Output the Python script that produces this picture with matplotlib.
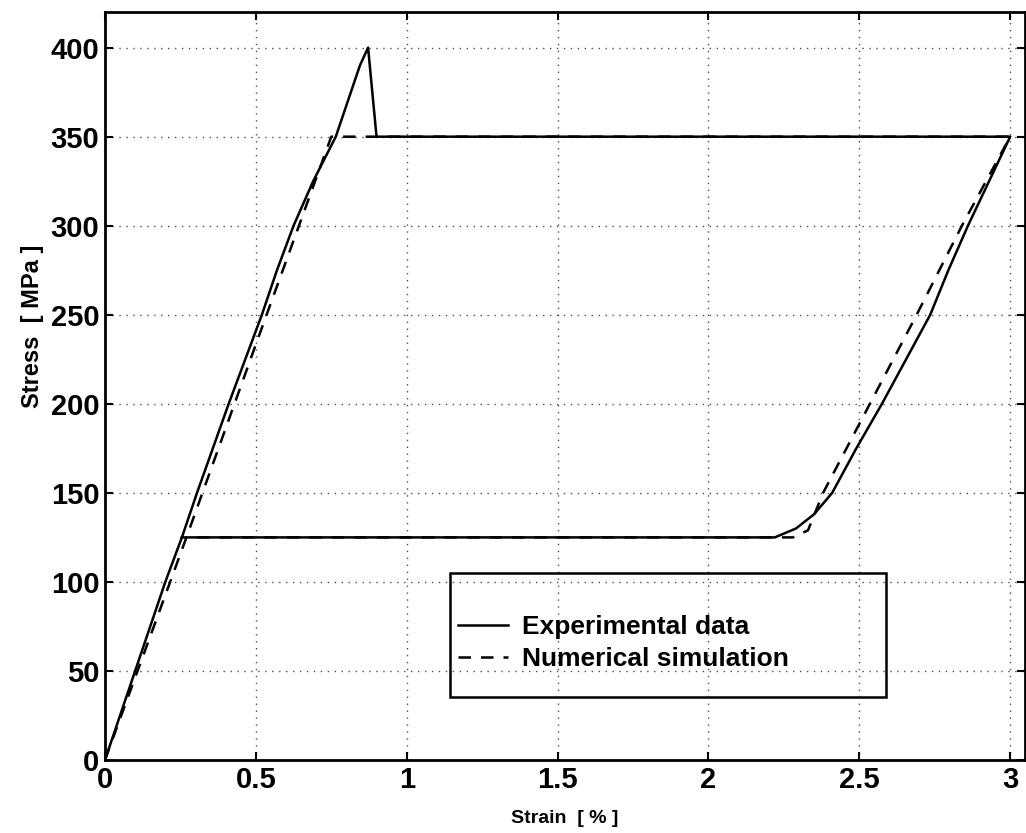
import numpy as np
import matplotlib.pyplot as plt
from matplotlib.patches import Rectangle

plt.rcParams['font.family'] = ['Liberation Sans', 'DejaVu Sans']

# Experimental data (strain %, stress MPa)
exp_strain = [0, 0.10, 0.20, 0.255, 0.305, 0.41, 0.52, 0.57, 0.625, 0.69, 0.765, 0.845, 0.872, 0.90,
              3.0, 2.93, 2.86, 2.795, 2.735, 2.655, 2.575, 2.49, 2.41, 2.35, 2.29, 2.22, 0.255]
exp_stress = [0, 50, 100, 125, 150, 200, 250, 275, 300, 325, 350, 390, 400, 350,
              350, 325, 300, 275, 250, 225, 200, 175, 150, 138, 130, 125, 125]

# Numerical simulation
sim_strain = [0, 0.27, 0.51, 0.75, 0.90, 3.0, 2.84, 2.69, 2.535, 2.38, 2.33, 2.28, 0.27]
sim_stress = [0, 125, 238, 350, 350, 350, 300, 250, 200, 150, 129, 125, 125]

xticks = [0, 0.5, 1, 1.5, 2, 2.5, 3]
yticks = [0, 50, 100, 150, 200, 250, 300, 350, 400]

fig = plt.figure(figsize=(10.26, 8.33), dpi=100)
ax = fig.add_axes([0.1023, 0.0876, 0.897, 0.898])

l1, = ax.plot(exp_strain, exp_stress, color='black', linewidth=1.8)
l2, = ax.plot(sim_strain, sim_stress, color='black', linewidth=1.8,
              linestyle=(0, (5, 4)))

ax.set_xlim(0, 3.05)
ax.set_ylim(0, 420)
ax.set_xticks(xticks)
ax.set_xticklabels(['0', '0.5', '1', '1.5', '2', '2.5', '3'])
ax.set_yticks(yticks)
ax.tick_params(direction='in', length=6, width=1.5, labelsize=21,
               top=True, right=True, pad=4)
for lab in ax.get_xticklabels() + ax.get_yticklabels():
    lab.set_fontweight('bold')
for s in ax.spines.values():
    s.set_linewidth(2)
ax.grid(True, color='black', linestyle=(0, (1, 4)), linewidth=1.0, alpha=0.7)

ax.set_xlabel('Strain  [ % ]', fontsize=14, fontweight='bold', labelpad=12)
ax.set_ylabel('Stress  [ MPa ]', fontsize=17, fontweight='bold', labelpad=0)
ax.yaxis.set_label_coords(-0.066, 0.58)

ax.add_patch(Rectangle((0.375, 0.084), 0.474, 0.166, transform=ax.transAxes,
                       fill=False, edgecolor='black', linewidth=1.8, zorder=5))
ax.legend([l1, l2], ['Experimental data', 'Numerical simulation'],
          loc='upper left', bbox_to_anchor=(0.358, 0.225), frameon=False,
          handlelength=1.9, handletextpad=0.5, labelspacing=0.3,
          prop={'weight': 'bold', 'size': 19})

fig.savefig('out.png', dpi=100)
